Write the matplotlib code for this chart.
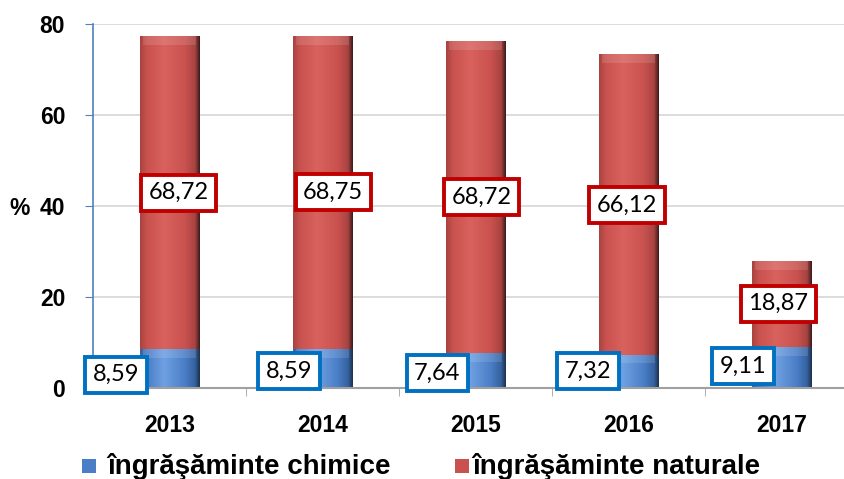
import numpy as np
import matplotlib
matplotlib.use("Agg")
import matplotlib.pyplot as plt
from matplotlib.colors import LinearSegmentedColormap
from matplotlib.patches import Rectangle

# Data
years = ["2013", "2014", "2015", "2016", "2017"]
chimice = [8.59, 8.59, 7.64, 7.32, 9.11]
naturale = [68.72, 68.75, 68.72, 66.12, 18.87]
yticks = [0, 20, 40, 60, 80]
series_names = ["îngrăşăminte chimice", "îngrăşăminte naturale"]

# Label placement (category units / value units)
lab_nat_pos = [(0.06, 42.9), (1.07, 43.0), (2.04, 42.0), (2.99, 40.2), (3.98, 18.5)]
lab_chim_pos = [(-0.35, 2.9), (0.78, 3.7), (1.75, 3.3), (2.735, 3.7), (3.75, 4.8)]

BLUE = "#4A7EC6"
RED = "#C9524F"
BLUE_EDGE = "#0070C0"
RED_EDGE = "#C00000"

W, H = 845, 479
fig = plt.figure(figsize=(W / 100, H / 100), dpi=100)
ax = fig.add_axes([93 / W, 91 / H, 765 / W, 364 / H])

x = np.arange(len(years))
bw = 0.39


def shaded(base, light, dark, edge):
    return LinearSegmentedColormap.from_list(
        "s", [(0.0, dark), (0.12, base), (0.4, light), (0.75, base), (0.92, dark), (1.0, edge)])


cm_red = shaded(RED, "#D9625E", "#A84341", "#3a1a1a")
cm_blue = shaded(BLUE, "#6FA0E2", "#35629F", "#1d2f4d")
grad = np.linspace(0, 1, 256).reshape(1, -1)

b1 = ax.bar(x, chimice, bw, color=BLUE, zorder=2)
b2 = ax.bar(x, naturale, bw, bottom=chimice, color=RED, zorder=2)

for bars, cm in ((b1, cm_blue), (b2, cm_red)):
    for r in bars:
        x0, y0, w, h = r.get_x(), r.get_y(), r.get_width(), r.get_height()
        im = ax.imshow(grad, cmap=cm, aspect="auto", extent=(x0, x0 + w, y0, y0 + h),
                       zorder=2.5, interpolation="bilinear")
        im.set_clip_path(r)
        # soft bevel on top of each segment
        bev = min(h * 0.25, 2.0)
        ax.add_patch(Rectangle((x0 + w * 0.06, y0 + h - bev), w * 0.88, bev,
                               color="white", alpha=0.12, lw=0, zorder=2.6))

ax.set_xlim(-0.5, len(years) - 0.5)
ax.set_ylim(0, 80)
ax.set_yticks(yticks)
ax.set_yticklabels([str(v) for v in yticks])
ax.set_xticks(x)
ax.set_xticklabels(years)
ax.set_xticks(np.arange(-0.5, len(years), 1.0)[1:], minor=True)

for lab in ax.get_xticklabels() + ax.get_yticklabels():
    lab.set_fontfamily("Liberation Sans")
    lab.set_fontweight("bold")
    lab.set_fontsize(16.5)

ax.tick_params(axis="x", which="major", length=0, pad=19)
ax.tick_params(axis="x", which="minor", length=6, color="#A0A0A0", direction="out")
ax.tick_params(axis="y", length=6, color="#4F81BD", direction="out", pad=14)

ax.grid(axis="y", color="#D9D9D9", lw=1.3, zorder=0)
ax.set_axisbelow(True)
for s in ("top", "right"):
    ax.spines[s].set_visible(False)
ax.spines["left"].set_color("#4F81BD")
ax.spines["left"].set_linewidth(1.2)
ax.spines["bottom"].set_color("#A0A0A0")
ax.spines["bottom"].set_linewidth(1.5)

fig.text(20 / W, 1 - 208 / H, "%", fontfamily="Liberation Sans", fontweight="bold",
         fontsize=16.5, ha="center", va="center")

# Value labels
for (px, py), v in zip(lab_nat_pos, naturale):
    ax.text(px, py, f"{v:.2f}".replace(".", ","), ha="center", va="center",
            fontfamily="Lato", fontsize=17, zorder=5,
            bbox=dict(boxstyle="square,pad=0.32", fc="white", ec=RED_EDGE, lw=2.8))
for (px, py), v in zip(lab_chim_pos, chimice):
    ax.text(px, py, f"{v:.2f}".replace(".", ","), ha="center", va="center",
            fontfamily="Lato", fontsize=17, zorder=5, clip_on=False,
            bbox=dict(boxstyle="square,pad=0.32", fc="white", ec=BLUE_EDGE, lw=2.8))

# Legend
leg_y = 1 - 466 / H
for lx, tx, col, name in ((82, 107, BLUE, series_names[0]), (455, 472, RED, series_names[1])):
    fig.add_artist(Rectangle((lx / W, leg_y - 7 / H), 14 / W, 14 / H, transform=fig.transFigure,
                             facecolor=col, edgecolor="none"))
    fig.text(tx / W, leg_y, name, fontfamily="Liberation Sans", fontweight="bold",
             fontsize=20, ha="left", va="center")

fig.savefig("out.png", dpi=100)
